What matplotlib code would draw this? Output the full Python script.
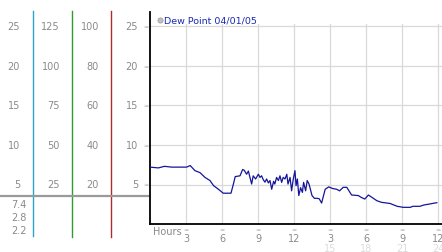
import matplotlib
matplotlib.use("Agg")
import matplotlib.pyplot as plt
from matplotlib.transforms import blended_transform_factory

# ---- data ----
hours = [0, 0.7, 1.2, 1.8, 2.5, 3.05, 3.35, 3.75, 4.17, 4.58, 5.0, 5.3, 5.7, 6.1, 6.75,
         6.95, 7.1, 7.5, 7.72, 7.85, 8.05, 8.2, 8.33, 8.47, 8.6, 8.8, 9.03, 9.17, 9.3, 9.44,
         9.58, 9.72, 9.86, 10.0, 10.14, 10.3, 10.4, 10.55, 10.7, 10.83, 10.97, 11.1, 11.25,
         11.4, 11.5, 11.67, 11.8, 11.94, 12.08, 12.17, 12.28, 12.4, 12.55, 12.7, 12.8, 12.97,
         13.1, 13.25, 13.4, 13.5, 13.7, 13.9, 14.1, 14.3, 14.6, 14.9, 15.2, 15.55, 15.8, 16.1,
         16.4, 16.8, 17.36, 17.6, 17.9, 18.2, 18.5, 18.9, 19.3, 20.0, 20.6, 21.1, 21.7, 21.9,
         22.5, 22.8, 23.3, 23.9]
dew_point = [7.2, 7.1, 7.3, 7.2, 7.2, 7.2, 7.4, 6.75, 6.5, 5.9, 5.5, 4.85, 4.4, 3.9, 3.9,
             5.06, 6.0, 6.1, 6.9, 6.8, 6.3, 6.7, 5.9, 5.06, 6.1, 5.7, 6.3, 5.9, 6.1, 5.6,
             5.3, 5.7, 5.2, 5.5, 4.4, 5.4, 5.06, 5.9, 5.5, 6.1, 5.27, 5.9, 5.7, 6.3, 5.06,
             5.9, 4.2, 5.7, 6.75, 4.85, 5.7, 3.6, 4.6, 4.0, 5.27, 4.2, 5.5, 5.06, 4.2, 3.6,
             3.25, 3.25, 3.2, 2.65, 4.4, 4.7, 4.5, 4.4, 4.2, 4.64, 4.64, 3.67, 3.6, 3.37, 3.16,
             3.67, 3.37, 2.95, 2.74, 2.6, 2.24, 2.11, 2.11, 2.24, 2.24, 2.4, 2.53, 2.7]

main_ticks = [5, 10, 15, 20, 25]
scale_a = [5, 10, 15, 20, 25]
scale_b = [25, 50, 75, 100, 125]
scale_c = [20, 40, 60, 80, 100]
stats = ["7.4", "2.8", "2.2"]
x_ticks = [3, 6, 9, 12, 15, 18, 21, 24]
x_labels_top = ["3", "6", "9", "12", "3", "6", "9", "12"]
x_labels_bottom = ["", "", "", "", "15", "18", "21", "24"]
legend_label = "Dew Point 04/01/05"

W, H = 442, 253
fig = plt.figure(figsize=(W / 100, H / 100), dpi=100)
fig.patch.set_facecolor("white")

# overlay axes in pixel coords (top-down)
ov = fig.add_axes([0, 0, 1, 1])
ov.set_xlim(0, W)
ov.set_ylim(H, 0)
ov.axis("off")

# main axes
left_px, right_px, top_px, bot_px = 150, 442, 13, 225
ax = fig.add_axes([left_px / W, (H - bot_px) / H, (right_px - left_px) / W, (bot_px - top_px) / H])
ax.set_facecolor("none")
px_per_unit = 39.5 / 5
ax.set_ylim(0, (bot_px - top_px) / px_per_unit)
ax.set_xlim(0, (right_px - left_px) / 12.0)
for s in ["top", "right"]:
    ax.spines[s].set_visible(False)
ax.spines["left"].set_color("black")
ax.spines["bottom"].set_color("black")
ax.spines["left"].set_linewidth(1.3)
ax.spines["bottom"].set_linewidth(1.3)
ax.set_xticks([])
ax.set_yticks([])

grid_c = "#d9d9d9"
for v in main_ticks:
    ax.axhline(v, color=grid_c, lw=0.9, zorder=0)
vtop = (bot_px - 25) / px_per_unit
for h in x_ticks:
    ax.plot([h, h], [0, vtop], color=grid_c, lw=0.9, zorder=0)

ax.plot(hours, dew_point, color="#15159a", lw=0.9, zorder=3)

# legend
ov.scatter([160], [21], s=14, color="#c0c0c0", edgecolor="#999999", linewidths=0.5, zorder=5)
ov.text(164, 21, legend_label, color="#1a2ab0", fontsize=6.8, va="center", ha="left")

# left panel
tr = blended_transform_factory(ov.transData, ax.transData)
lab_c = "#8a8a8a"
fs = 7
for v in main_ticks:
    pass
for vals, xr in [(scale_a, 20), (scale_b, 60), (scale_c, 99), (main_ticks, 138)]:
    for t, v in zip(main_ticks, vals):
        ax.text(xr, t, str(v), transform=tr, ha="right", va="center", fontsize=fs, color=lab_c)
for t in main_ticks:
    ax.text(145.5, t, "≈", transform=tr, ha="center", va="center", fontsize=4.5, color="#aaaaaa")

ov.plot([33, 33], [12, 237], color="#2aa5c8", lw=1.0)
ov.plot([72, 72], [12, 238], color="#2f9e2f", lw=1.0)
ov.plot([111, 111], [12, 238], color="#b02a2a", lw=1.0)
ov.plot([0, 149], [197, 197], color="#9a9a9a", lw=1.6)

for s, y in zip(stats, [205, 218, 231]):
    ov.text(27, y, s, ha="right", va="center", fontsize=fs, color=lab_c)

# x tick labels
trx = blended_transform_factory(ax.transData, ov.transData)
for h, lt, lb in zip(x_ticks, x_labels_top, x_labels_bottom):
    ax.text(h, 230.5, "≈", transform=trx, ha="center", va="center", fontsize=4.5, color="#aaaaaa")
    ax.text(h, 239.5, lt, transform=trx, ha="center", va="center", fontsize=fs, color=lab_c)
    if lb:
        ax.text(h, 249.5, lb, transform=trx, ha="center", va="center", fontsize=fs, color="#dcdcdc")
ov.text(153, 232, "Hours", ha="left", va="center", fontsize=fs, color=lab_c)

fig.savefig("out.png", dpi=100)
